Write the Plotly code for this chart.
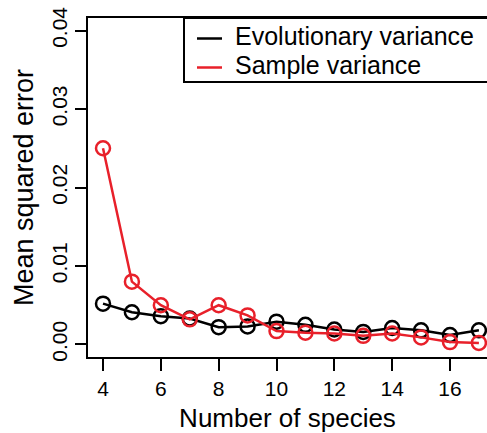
import plotly.graph_objects as go

species = [4, 5, 6, 7, 8, 9, 10, 11, 12, 13, 14, 15, 16, 17]
evolutionary_var = [0.0052, 0.0041, 0.0036, 0.0033, 0.0022, 0.0023, 0.0029, 0.0025,
                    0.0019, 0.0016, 0.0021, 0.0018, 0.0012, 0.0018]
sample_var = [0.0250, 0.0080, 0.0050, 0.0032, 0.0050, 0.0037, 0.0017, 0.0015,
              0.0014, 0.0011, 0.0014, 0.0009, 0.0003, 0.0002]
series_names = ["Evolutionary variance", "Sample variance"]
y_ticks = [0.00, 0.01, 0.02, 0.03, 0.04]
x_ticks = [4, 6, 8, 10, 12, 14, 16]

FONT = "Liberation Sans, Arial, sans-serif"
RED = "#e8202a"
colors = ["black", RED]

# plot area in pixels: x 88..487, y 18..357
L, R, T, B = 88, 487, 18, 357
def px(x):
    return (x - L) / (R - L)
def py(y):
    return (B - y) / (B - T)

fig = go.Figure()
for name, vals, col in zip(series_names, [evolutionary_var, sample_var], colors):
    fig.add_trace(go.Scatter(
        x=species, y=vals, mode="lines+markers", name=name, showlegend=False,
        line=dict(color=col, width=2.5),
        marker=dict(symbol="circle-open", size=14, color=col, line=dict(width=2.5, color=col)),
    ))

# legend (box, line samples, labels)
shapes = [dict(type="rect", xref="paper", yref="paper", x0=px(184), x1=px(500),
               y0=py(82), y1=py(18), fillcolor="white", line=dict(color="black", width=2),
               layer="above")]
annotations = []
for i, (name, col) in enumerate(zip(series_names, colors)):
    ly = 38.5 + 29 * i
    shapes.append(dict(type="line", xref="paper", yref="paper", x0=px(197), x1=px(222),
                       y0=py(ly), y1=py(ly), line=dict(color=col, width=2.5), layer="above"))
    annotations.append(dict(xref="paper", yref="paper", x=px(233), y=py(ly - 2.5),
                            xanchor="left", yanchor="middle", showarrow=False,
                            text=name, font=dict(size=25, color="black", family=FONT)))

fig.update_layout(
    width=487, height=433,
    margin=dict(l=L, r=487 - R, t=T, b=433 - B),
    plot_bgcolor="white", paper_bgcolor="white",
    font=dict(family=FONT, color="black"),
    showlegend=False,
    shapes=shapes, annotations=annotations,
    xaxis=dict(range=[3.481, 17.28], tickvals=x_ticks, ticks="outside", ticklen=12,
               tickwidth=2, tickcolor="black", showline=True, linecolor="black",
               linewidth=2, mirror=True, showgrid=False, zeroline=False,
               tickfont=dict(size=21), title=dict(text="Number of species", font=dict(size=26), standoff=12)),
    yaxis=dict(range=[-0.0016, 0.0416], tickvals=y_ticks, tickformat=".2f",
               ticks="outside", ticklen=11, tickwidth=2, tickcolor="black",
               showline=True, linecolor="black", linewidth=2, mirror=False,
               showgrid=False, zeroline=False, tickangle=-90,
               tickfont=dict(size=21), title=dict(text="Mean squared error", font=dict(size=27), standoff=6)),
)

fig.write_html("out.html")
